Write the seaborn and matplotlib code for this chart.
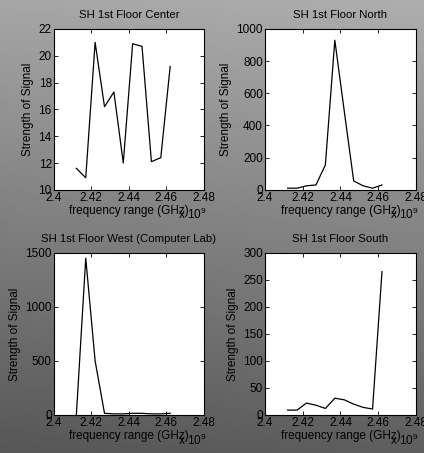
import numpy as np
import pandas as pd
import matplotlib
matplotlib.use("Agg")
import matplotlib.pyplot as plt
import seaborn as sns
from matplotlib.ticker import FuncFormatter

# ---- data ----
freq_hz = [2.412e9, 2.417e9, 2.422e9, 2.427e9, 2.432e9, 2.437e9,
           2.442e9, 2.447e9, 2.452e9, 2.457e9, 2.462e9]
center = [11.6, 10.9, 21.0, 16.2, 17.3, 12.0, 20.9, 20.7, 12.1, 12.4, 19.2]
north = [10, 10, 25, 30, 155, 930, 490, 55, 25, 10, 30]
west = [0, 1450, 500, 15, 10, 10, 15, 15, 10, 10, 15]
south = [9, 9, 22, 18, 12, 31, 28, 20, 14, 11, 265]

titles = ["SH 1st Floor Center", "SH 1st Floor North",
          "SH 1st Floor West (Computer Lab)", "SH 1st Floor South"]
series = [center, north, west, south]
ylims = [(10, 22), (0, 1000), (0, 1500), (0, 300)]
yticks = [[10, 12, 14, 16, 18, 20, 22],
          [0, 200, 400, 600, 800, 1000],
          [0, 500, 1000, 1500],
          [0, 50, 100, 150, 200, 250, 300]]
xticks = [2.40e9, 2.42e9, 2.44e9, 2.46e9, 2.48e9]
xlabel = "frequency range (GHz)"
ylabel = "Strength of Signal"

plt.rcParams['font.family'] = ['Liberation Sans', 'DejaVu Sans']
plt.rcParams['mathtext.fontset'] = 'custom'
plt.rcParams['mathtext.rm'] = 'Liberation Sans'
fs = 8.5
fs_title = 8.2

fig = plt.figure(figsize=(4.24, 4.53), dpi=100)

# background gradient
bg = fig.add_axes([0, 0, 1, 1], zorder=-10)
yy, xx = np.mgrid[0:1:200j, 0:1:200j]
grad = 0.65 - 0.31 * yy + 0.03 * xx
bg.imshow(grad, cmap='gray', vmin=0, vmax=1, aspect='auto', extent=[0, 1, 0, 1], origin='upper')
bg.set_axis_off()

positions = [[0.127, 0.581, 0.354, 0.355],
             [0.625, 0.581, 0.356, 0.355],
             [0.127, 0.084, 0.354, 0.358],
             [0.625, 0.084, 0.356, 0.358]]

for i in range(4):
    ax = fig.add_axes(positions[i])
    df = pd.DataFrame({"f": freq_hz, "s": series[i]})
    sns.lineplot(data=df, x="f", y="s", ax=ax, color='black', linewidth=0.9)
    ax.set_facecolor('white')
    ax.set_xlim(2.40e9, 2.48e9)
    ax.set_ylim(*ylims[i])
    ax.set_xticks(xticks)
    ax.set_yticks(yticks[i])
    ax.xaxis.set_major_formatter(FuncFormatter(lambda v, p: "%g" % round(v / 1e9, 4)))
    ax.tick_params(direction='in', top=True, right=True, length=3, width=0.6,
                   labelsize=fs, pad=1.5, colors='black')
    for sp in ax.spines.values():
        sp.set_color('black')
        sp.set_linewidth(0.8)
    ax.set_title(titles[i], fontsize=fs_title, pad=8, color='black')
    ax.set_xlabel(xlabel, fontsize=fs, labelpad=1, color='black')
    ax.set_ylabel(ylabel, fontsize=fs, labelpad=3, color='black')
    ax.text(0.83, -0.155, r'x $\mathregular{10^9}$', transform=ax.transAxes,
            fontsize=fs, ha='left', va='center', color='black')

fig.savefig("out.png", dpi=100)
